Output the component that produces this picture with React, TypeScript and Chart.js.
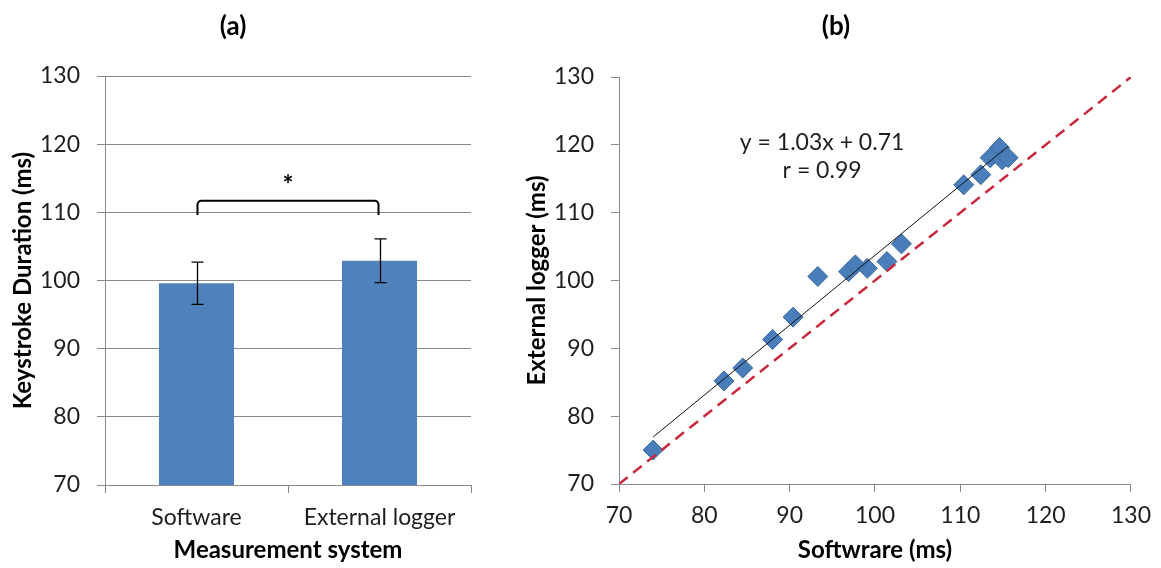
import { useEffect, useRef } from "react";
import { Chart, registerables } from "chart.js";

Chart.register(...registerables);

// Panel (a): mean keystroke duration per measurement system
const systems = ["Software", "External logger"];
const meanDuration = [99.6, 102.9];
const sdDuration = [3.1, 3.2];
const durationTicks = [70, 80, 90, 100, 110, 120, 130];

// Panel (b): per-participant durations, software vs external logger (ms)
const softwareMs = [74.0, 82.3, 84.5, 88.0, 90.4, 93.3, 96.9, 97.7, 99.1, 101.4, 103.1, 110.4, 112.4, 113.5, 114.6, 114.9, 115.6];
const loggerMs = [75.0, 85.2, 87.1, 91.3, 94.6, 100.6, 101.3, 102.3, 101.8, 102.8, 105.4, 114.1, 115.6, 118.1, 119.6, 117.8, 118.1];
const identityLine = [70, 130];
const fitSlope = 1.03;
const fitIntercept = 0.71;
const fitR = 0.99;

const FONT = 'Lato, "Open Sans", "Noto Sans", sans-serif';
const AXIS_GRAY = "#8a8a8a";
const TEXT = "#1e1e1e";
const BAR_BLUE = "#4f81bd";

const panelTitle = {
  id: "panelTitle",
  afterDraw(chart: any, _args: any, opts: any) {
    const ctx = chart.ctx;
    ctx.save();
    ctx.font = `bold 26px ${FONT}`;
    ctx.fillStyle = "#000";
    ctx.textAlign = "center";
    ctx.textBaseline = "middle";
    ctx.fillText(opts.text, opts.x, opts.y);
    ctx.restore();
  },
};

const errorBars = {
  id: "errorBars",
  afterDatasetsDraw(chart: any) {
    const meta = chart.getDatasetMeta(0);
    const y = chart.scales.y;
    const ctx = chart.ctx;
    ctx.save();
    ctx.strokeStyle = "#000";
    ctx.lineWidth = 1.3;
    meta.data.forEach((bar: any, i: number) => {
      const x = Math.round(bar.x) + 0.5;
      const top = y.getPixelForValue(meanDuration[i] + sdDuration[i]);
      const bot = y.getPixelForValue(meanDuration[i] - sdDuration[i]);
      ctx.beginPath();
      ctx.moveTo(x, top);
      ctx.lineTo(x, bot);
      ctx.moveTo(x - 6, top);
      ctx.lineTo(x + 6, top);
      ctx.moveTo(x - 6, bot);
      ctx.lineTo(x + 6, bot);
      ctx.stroke();
    });

    // significance bracket between the two systems
    const x0 = meta.data[0].x + 1;
    const x1 = meta.data[1].x - 1;
    const yTop = y.getPixelForValue(111.7);
    const yLeg = y.getPixelForValue(109.6);
    const r = 4;
    ctx.lineWidth = 2;
    ctx.beginPath();
    ctx.moveTo(x0, yLeg);
    ctx.lineTo(x0, yTop + r);
    ctx.arcTo(x0, yTop, x0 + r, yTop, r);
    ctx.lineTo(x1 - r, yTop);
    ctx.arcTo(x1, yTop, x1, yTop + r, r);
    ctx.lineTo(x1, yLeg);
    ctx.stroke();

    ctx.font = `bold 26px ${FONT}`;
    ctx.fillStyle = "#000";
    ctx.textAlign = "center";
    ctx.textBaseline = "middle";
    ctx.fillText("*", (x0 + x1) / 2, y.getPixelForValue(113.9));
    ctx.restore();
  },
};

const fitLabel = {
  id: "fitLabel",
  afterDraw(chart: any) {
    const { x, y } = chart.scales;
    const ctx = chart.ctx;
    ctx.save();
    ctx.font = `23px ${FONT}`;
    ctx.fillStyle = TEXT;
    ctx.textAlign = "center";
    ctx.textBaseline = "middle";
    const cx = x.getPixelForValue(93.8);
    ctx.fillText(`y = ${fitSlope.toFixed(2)}x + ${fitIntercept.toFixed(2)}`, cx, y.getPixelForValue(120.4));
    ctx.fillText(`r = ${fitR.toFixed(2)}`, cx, y.getPixelForValue(116.2));
    ctx.restore();
  },
};

const tickFont = { family: FONT, size: 23, lineHeight: 1.2 };
const titleFont = { family: FONT, size: 24, weight: "bold" as const, lineHeight: 1.2 };

function BarPanel() {
  const ref = useRef<HTMLCanvasElement>(null);
  useEffect(() => {
    const chart = new Chart(ref.current!, {
      type: "bar",
      data: {
        labels: systems,
        datasets: [
          {
            data: meanDuration,
            backgroundColor: BAR_BLUE,
            barPercentage: 0.41,
            categoryPercentage: 1,
          },
        ],
      },
      options: {
        responsive: false,
        animation: false,
        layout: { padding: { top: 76, right: 29, left: 0, bottom: 0 } },
        plugins: {
          legend: { display: false },
          tooltip: { enabled: false },
          panelTitle: { text: "(a)", x: 233, y: 27 },
        } as any,
        scales: {
          x: {
            grid: { drawOnChartArea: false, drawTicks: true, tickLength: 8, color: AXIS_GRAY, offset: true },
            border: { color: AXIS_GRAY, width: 1 },
            ticks: { font: tickFont, color: TEXT, padding: 11 },
            title: { display: true, text: "Measurement system", font: titleFont, color: "#000", padding: { top: 0, bottom: 3 } },
            afterFit: (s: any) => {
              s.height = 83;
            },
          },
          y: {
            min: durationTicks[0],
            max: durationTicks[durationTicks.length - 1],
            afterBuildTicks: (s: any) => {
              s.ticks = durationTicks.map((v) => ({ value: v }));
            },
            grid: { color: AXIS_GRAY, tickLength: 8, lineWidth: 1 },
            border: { color: AXIS_GRAY, width: 1 },
            ticks: { font: tickFont, color: TEXT, padding: 17 },
            title: { display: true, text: "Keystroke Duration (ms)", font: titleFont, color: "#000", padding: { top: 9, bottom: 0 } },
            afterFit: (s: any) => {
              s.width = 105;
            },
          },
        },
      } as any,
      plugins: [panelTitle, errorBars],
    });
    return () => chart.destroy();
  }, []);
  return (
    <canvas
      ref={ref}
      width={500}
      height={568}
      style={{ position: "absolute", left: 0, top: 0, width: 500, height: 568 }}
    />
  );
}

function ScatterPanel() {
  const ref = useRef<HTMLCanvasElement>(null);
  useEffect(() => {
    const xMin = Math.min(...softwareMs);
    const xMax = Math.max(...softwareMs);
    const chart = new Chart(ref.current!, {
      type: "scatter",
      data: {
        datasets: [
          {
            type: "line",
            data: [
              { x: xMin, y: fitSlope * xMin + fitIntercept },
              { x: xMax, y: fitSlope * xMax + fitIntercept },
            ],
            borderColor: "#111",
            borderWidth: 1,
            pointRadius: 0,
            fill: false,
          },
          {
            type: "line",
            data: identityLine.map((v) => ({ x: v, y: v })),
            borderColor: "#c8283c",
            borderWidth: 2.5,
            borderDash: [11, 7],
            pointRadius: 0,
            fill: false,
          },
          {
            data: softwareMs.map((x, i) => ({ x, y: loggerMs[i] })),
            pointStyle: "rectRot",
            pointRadius: 10,
            backgroundColor: "#4a7ebb",
            borderColor: "#3b699f",
            borderWidth: 1,
          },
        ],
      },
      options: {
        responsive: false,
        animation: false,
        layout: { padding: { top: 77, right: 23, left: 0, bottom: 0 } },
        plugins: {
          legend: { display: false },
          tooltip: { enabled: false },
          panelTitle: { text: "(b)", x: 336, y: 27 },
        } as any,
        scales: {
          x: {
            type: "linear",
            min: 70,
            max: 130,
            afterBuildTicks: (s: any) => {
              s.ticks = durationTicks.map((v) => ({ value: v }));
            },
            grid: { drawOnChartArea: false, drawTicks: true, tickLength: 8, color: AXIS_GRAY },
            border: { color: AXIS_GRAY, width: 1 },
            ticks: { font: tickFont, color: TEXT, padding: 10 },
            title: { display: true, text: "Softwrare (ms)", font: titleFont, color: "#000", padding: { top: 0, bottom: 3 } },
            afterFit: (s: any) => {
              s.height = 84;
            },
          },
          y: {
            type: "linear",
            min: 70,
            max: 130,
            afterBuildTicks: (s: any) => {
              s.ticks = durationTicks.map((v) => ({ value: v }));
            },
            grid: { drawOnChartArea: false, drawTicks: true, tickLength: 8, color: AXIS_GRAY },
            border: { color: AXIS_GRAY, width: 1 },
            ticks: { font: tickFont, color: TEXT, padding: 17 },
            title: { display: true, text: "External logger (ms)", font: titleFont, color: "#000", padding: { top: 23, bottom: 0 } },
            afterFit: (s: any) => {
              s.width = 119;
            },
          },
        },
      } as any,
      plugins: [panelTitle, fitLabel],
    });
    return () => chart.destroy();
  }, []);
  return (
    <canvas
      ref={ref}
      width={661}
      height={568}
      style={{ position: "absolute", left: 500, top: 0, width: 661, height: 568 }}
    />
  );
}

export default function App() {
  return (
    <div
      style={{
        position: "fixed",
        left: 0,
        top: 0,
        width: 1161,
        height: 568,
        background: "#fff",
        overflow: "hidden",
      }}
    >
      <BarPanel />
      <ScatterPanel />
    </div>
  );
}
